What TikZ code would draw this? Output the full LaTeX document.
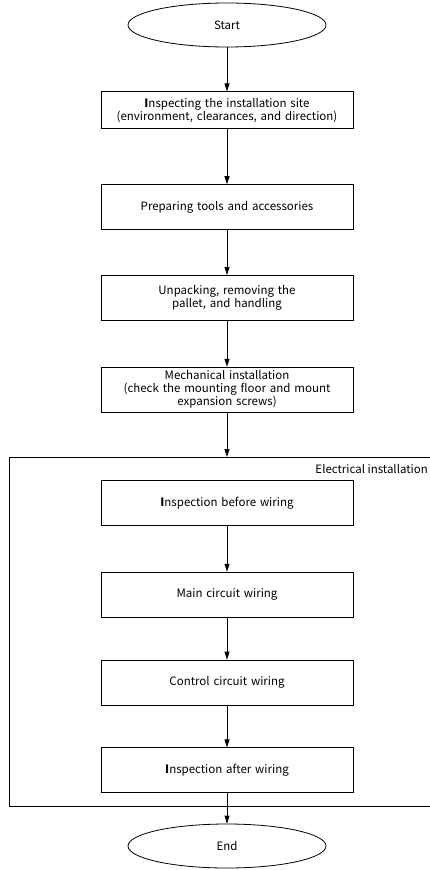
\documentclass[tikz,border=0pt]{standalone}
\usepackage{fontspec}
\setmainfont{Noto Sans CJK SC}
\usepackage{tikz}
\usetikzlibrary{arrows.meta,shapes,positioning}

\begin{document}
\begin{tikzpicture}[
        x=1pt, y=-1pt,
        font=\fontsize{11.5}{13}\selectfont,
        block/.style={rectangle, draw, line width=0.8pt, text width=248pt,
                     text centered, minimum width=252pt, minimum height=45pt, inner sep=2pt},
        term/.style={ellipse, draw, line width=0.8pt, minimum width=198pt, minimum height=44pt},
        line/.style={draw, line width=0.8pt, -{Triangle[length=8pt,width=5pt]}}
      ]
        \useasboundingbox (0,0) rectangle (429,870);

        % Start and site check
        \node [term] (start) at (227,25) {Start};
        \node [block, below=44pt of start, minimum height=37pt] (site) {\textbf{I}nspecting the installation site\\(environment, clearances, and direction)};

        % Preparation
        \node [block, below=55pt of site] (tools) {Preparing tools and accessories};
        \node [block, below=45pt of tools] (unpack) {Unpacking, removing the\\pallet, and handling};
        \node [block, below=46pt of unpack] (mech) {Mechanical installation\\(check the mounting floor and mount\\expansion screws)};

        % Electrical installation frame
        \coordinate (frameNW) at (9,457);
        \coordinate (frameSE) at (450,806);
        \draw [line width=0.8pt] (frameNW) rectangle (frameSE);
        \node [anchor=east, inner sep=0pt] (elec) at (428,469) {Electrical installation};

        % Wiring steps
        \node [block, below=23pt of mech |- frameNW] (before) {\textbf{I}nspection before wiring};
        \node [block, below=46pt of before] (main) {Main circuit wiring};
        \node [block, below=42pt of main] (control) {Control circuit wiring};
        \node [block, below=42pt of control] (after) {\textbf{I}nspection after wiring};

        % End
        \node [term] (end) at (227,846) {End};

        % Lines
        \draw [line] (start) -- (site);
        \draw [line] (site) -- (tools);
        \draw [line] (tools) -- (unpack);
        \draw [line] (unpack) -- (mech);
        \draw [line] (mech) -- (mech |- frameNW);
        \draw [line] (before) -- (main);
        \draw [line] (main) -- (control);
        \draw [line] (control) -- (after);
        \draw [line] (after) -- (end);
      \end{tikzpicture}
\end{document}
